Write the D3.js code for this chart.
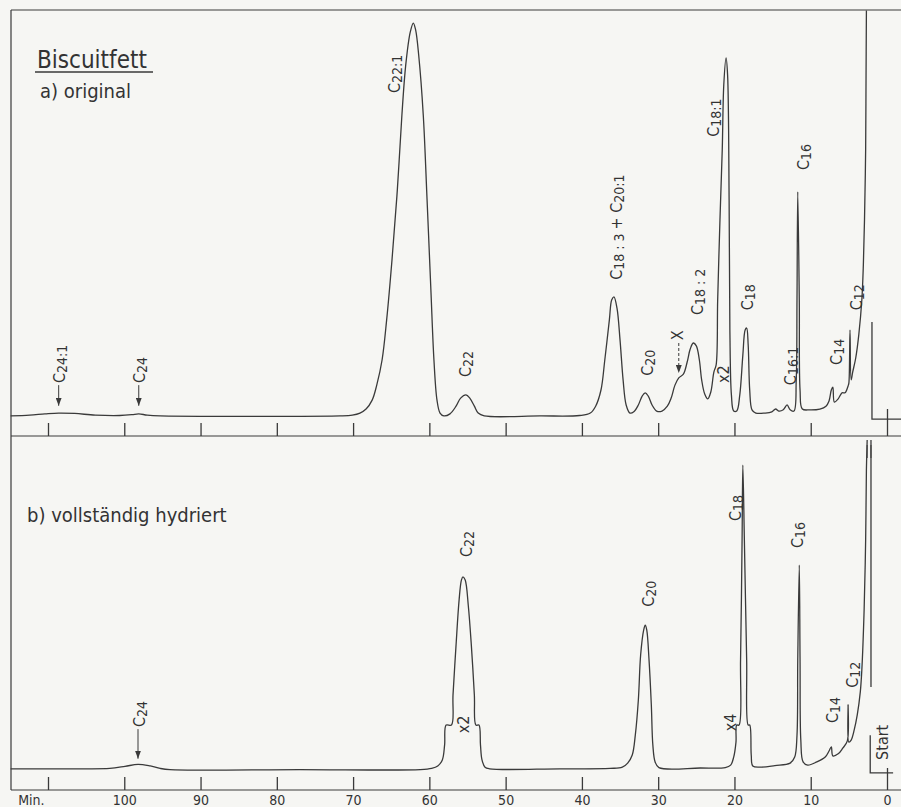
<!DOCTYPE html>
<html>
<head>
<meta charset="utf-8">
<script src="https://cdn.jsdelivr.net/npm/d3@7"></script>
<style>
body { margin: 0; background: #f6f6f3; }
text { font-family: "Liberation Sans Narrow", "DejaVu Sans Condensed", "DejaVu Sans", sans-serif; fill: #333; }
</style>
</head>
<body>
<svg id="chart" width="901" height="807"></svg>
<script>
// recorder traces, [retention time in min, signal]
var traceA = [[114.9,-0.1],[112.4,0.1],[110.4,0.4],[108.6,0.6],[106.5,0.5],[103.8,0.1],[100.6,0],[99.0,0.2],[98.1,0.4],[97.0,0.1],[95.3,-0.1],
  [83.5,-0.2],[71.7,-0.1],[70.1,0.1],[69.1,0.6],[68.3,1.6],[67.5,3.8],[66.9,7.5],[66.2,13.7],[65.6,23.6],[64.9,38.4],[64.2,55.7],[63.6,74.2],
  [63.1,86.5],[62.5,94.7],[62.1,96.9],[61.8,95.2],[61.4,89.0],[60.8,74.2],[60.3,53.2],[59.8,31.0],[59.4,13.7],[59.0,3.8],[58.6,0.6],[58.1,-0.1],
  [57.3,0.4],[56.5,2.3],[55.9,4.3],[55.2,5.1],[54.7,4.3],[54.1,2.3],[53.6,0.6],[52.8,-0.1],[45.5,-0.1],[40.3,0],[38.9,0.6],[38.2,2.3],
  [37.5,6.3],[37.0,13.7],[36.4,23.6],[36.1,28.5],[35.8,29.3],[35.4,26.5],[35.0,18.6],[34.6,8.8],[34.2,2.6],[33.7,0.6],[33.2,0.9],[32.6,2.6],
  [32.1,4.8],[31.7,5.6],[31.3,4.8],[30.8,2.6],[30.2,1.1],[29.5,1.1],[28.8,2.3],[28.3,4.3],[27.8,7.5],[27.3,9.3],[26.7,10.2],[26.2,13.2],
  [25.8,16.4],[25.4,17.9],[25.0,17.2],[24.6,13.7],[24.3,8.8],[23.9,5.3],[23.5,4.1],[23.1,5.8],[22.7,10.7],[22.4,12.5],[22.2,28.5],[21.9,48.3],
  [21.6,65.6],[21.4,81.6],[21.1,88.3],[20.9,84.1],[20.7,53.2],[20.6,21.1],[20.4,5.1],[20.1,1.1],[19.7,1.1],[19.3,5.1],[18.9,14.9],[18.6,21.1],
  [18.4,21.6],[18.2,17.4],[18.0,6.3],[17.7,1.4],[17.2,0.6],[16.0,0.6],[15.1,0.9],[14.6,1.6],[14.2,1.1],[13.6,1.4],[13.1,2.6],[12.7,1.4],
  [12.2,1.1],[11.9,8.8],[11.8,28.5],[11.7,55.2],[11.5,28.5],[11.4,6.3],[11.1,1.6],[10.1,1.4],[8.8,1.6],[8.0,2.3],[7.6,3.6],[7.3,6.3],
  [7.1,7.0],[6.9,3.3],[6.4,4.1],[5.9,5.6],[5.5,5.6],[5.1,7.3],[5.0,8.0],[4.85,21.1],[4.7,8.8],[4.5,10.7],[4.1,14.2],[3.7,19.9],[3.3,28.5],
  [3.1,37.2],[2.95,48.3],[2.8,65.6],[2.75,82.8],[2.7,100]];

var traceB = [[114.9,-0.2],[105.8,-0.2],[101.9,-0.1],[99.9,0.4],[98.2,0.9],[96.6,0.5],[95.3,-0.1],[94.0,-0.4],[77.0,-0.4],[61.2,-0.4],
  [59.7,-0.1],[58.9,0.5],[58.3,2.0],[58.0,5.7],[57.8,10.6],[57.1,10.6],[56.9,18.0],[56.5,30.4],[56.1,41.5],[55.8,46.4],[55.6,47.2],
  [55.3,46.4],[54.9,40.2],[54.5,30.4],[54.1,18.0],[53.9,10.6],[53.5,10.6],[53.3,5.7],[53.1,2.0],[52.7,0.2],[52.1,-0.2],[42.9,-0.2],
  [36.3,-0.1],[34.7,0.2],[34.0,1.2],[33.4,3.2],[33.0,8.1],[32.6,16.8],[32.3,27.9],[31.9,34.1],[31.7,35.3],[31.5,34.1],[31.2,26.7],
  [30.9,15.6],[30.7,5.7],[30.4,1.5],[29.9,0.1],[24.5,0],[21.2,0.1],[20.5,0.7],[20.1,2.7],[19.8,6.4],[19.7,10.6],[19.4,10.6],[19.2,26.7],
  [19.0,56.3],[18.9,74.8],[18.7,56.3],[18.4,26.7],[18.2,10.6],[18.0,10.6],[17.8,3.2],[17.6,0.5],[16.7,0.2],[14.7,0.6],[12.7,1.2],
  [12.1,2.7],[11.8,8.1],[11.7,26.7],[11.5,50.1],[11.4,26.7],[11.3,6.9],[11.0,1.5],[10.4,0.7],[9.2,1.5],[8.1,2.7],[7.6,4.2],[7.3,5.2],
  [7.1,3.0],[6.4,3.5],[5.8,4.9],[5.2,6.7],[5.1,15.6],[5.0,6.4],[4.7,6.9],[4.3,9.4],[3.9,13.1],[3.5,18.8],[3.3,24.2],[3.0,39.0],
  [2.8,56.3],[2.7,73.6],[2.6,81.0]];

// start marks and the off-scale solvent flank
var startA = [[1.97,23.1],[1.97,-0.9],[-1.84,-0.9]];
var startB = [[2.2,8.1],[2.2,-1.2],[-0.8,-1.2]];
var solventB = [[2.1,81],[2.1,20]];

var tickMinutes = [0,10,20,30,40,50,60,70,80,90,100,110];
var tickLabels = ["0","10","20","30","40","50","60","70","80","90","100","Min."];

// peak labels: text, time, signal at the lower end of the text
var peaksA = [["C24:1",108.6,8.0],["C24",98.1,8.0],["C22:1",64.7,79.6],["C22",55.3,9.5],["C18 : 3 + C20:1",35.5,33.5],
  ["C20",31.5,9.8],["X",27.5,18.6],["C18 : 2",24.9,24.8],["x2",21.5,8.0],["C18:1",22.8,68.8],["C18",18.4,26.0],
  ["C16:1",12.7,7.5],["C16",11.0,60.6],["C14",6.7,12.5],["C12",4.1,26.0]];
var peaksB = [["C24",98.1,10.1],["C22",55.2,52.1],["x2",55.6,8.6],["C20",31.3,39.8],["x4",20.6,9.1],["C18",19.9,61.0],
  ["C16",11.8,54.3],["C14",7.2,11.1],["C12",4.6,19.8],["Start",0.7,2.0]];

// arrows: time, from signal, to signal
var arrowsA = [[108.6,7.5,2.4],[98.1,7.5,2.4]];
var dashedA = [[27.3,17.9,10.5]];
var arrowsB = [[98.2,9.6,2.3]];

var ink = "#3a3a3a";
var svg = d3.select("#chart");
svg.append("rect").attr("width",901).attr("height",807).attr("fill","#f6f6f3");

var x = d3.scaleLinear().domain([0,110]).range([887,48]);
var yA = d3.scaleLinear().domain([0,100]).range([415.5,10.5]);
var yB = d3.scaleLinear().domain([0,100]).range([768,363]);

svg.append("defs").append("marker").attr("id","head")
  .attr("viewBox","0 0 8 6").attr("refX",8).attr("refY",3)
  .attr("markerWidth",8).attr("markerHeight",6).attr("markerUnits","userSpaceOnUse").attr("orient","auto")
  .append("path").attr("d","M0,0L8,3L0,6Z").attr("fill",ink);

// frame
svg.append("line").attr("x1",11).attr("x2",901).attr("y1",10).attr("y2",10).attr("stroke",ink).attr("stroke-width",1.2);
svg.append("line").attr("x1",11).attr("x2",11).attr("y1",10).attr("y2",790).attr("stroke",ink).attr("stroke-width",1.2);

function axis(yPos, long, labels) {
  var ax = d3.axisBottom(x).tickValues(tickMinutes).tickSize(-13).tickPadding(5)
    .tickFormat(function(d,i){ return labels ? tickLabels[i] : ""; });
  var g = svg.append("g").attr("transform","translate(0,"+yPos+")").call(ax);
  g.select(".domain").remove();
  g.append("line").attr("x1",11).attr("x2",901).attr("stroke",ink).attr("stroke-width",1.2);
  g.selectAll(".tick line").attr("stroke",ink).attr("stroke-width",1.3);
  g.selectAll(".tick").filter(function(d){ return d===0; }).select("line").attr("y2",-long);
  g.selectAll(".tick text").attr("font-size",14).attr("fill","#333");
  g.selectAll(".tick").filter(function(d){ return d===110; }).select("text")
    .attr("text-anchor","end").attr("x",-4);
}
axis(436, 27, false);
axis(790, 22, true);

// break mark below the upper time axis
[2.6,2.1].forEach(function(t){
  svg.append("line").attr("x1",x(t)).attr("x2",x(t)).attr("y1",445).attr("y2",458).attr("stroke",ink).attr("stroke-width",1);
});

function trace(data, y) {
  var line = d3.line().x(function(d){ return x(d[0]); }).y(function(d){ return y(d[1]); })
    .curve(d3.curveCatmullRom.alpha(0.5));
  svg.append("path").datum(data).attr("d",line).attr("fill","none").attr("stroke",ink).attr("stroke-width",1.3);
}
function poly(data, y) {
  var line = d3.line().x(function(d){ return x(d[0]); }).y(function(d){ return y(d[1]); });
  svg.append("path").datum(data).attr("d",line).attr("fill","none").attr("stroke",ink).attr("stroke-width",1.3);
}
trace(traceA, yA);
trace(traceB, yB);
poly(startA, yA);
poly(startB, yB);
poly(solventB, yB);

function arrows(list, y, dashed) {
  list.forEach(function(a){
    svg.append("line").attr("x1",x(a[0])).attr("x2",x(a[0])).attr("y1",y(a[1])).attr("y2",y(a[2]))
      .attr("stroke",ink).attr("stroke-width",1).attr("stroke-dasharray",dashed ? "3,2" : null)
      .attr("marker-end","url(#head)");
  });
}
arrows(arrowsA, yA, false);
arrows(dashedA, yA, true);
arrows(arrowsB, yB, false);

// rotated peak labels, carbon numbers set smaller
function labels(list, y) {
  list.forEach(function(p){
    var t = svg.append("text").attr("transform","translate("+(x(p[1])+6)+","+y(p[2])+") rotate(-90)");
    var parts = p[0].match(/C|[\d :]+|[^C\d :]+/g), prev = "";
    parts.forEach(function(s){
      var sub = prev === "C" && /\d/.test(s);
      t.append("tspan").text(s).attr("font-size", sub ? 14 : 16).attr("dy", sub ? 2 : (prev && /\d/.test(prev) ? -2 : 0));
      prev = s;
    });
  });
}
labels(peaksA, yA);
labels(peaksB, yB);

svg.append("text").attr("x",37).attr("y",68).attr("font-size",24).text("Biscuitfett");
svg.append("line").attr("x1",35).attr("x2",153).attr("y1",72).attr("y2",72).attr("stroke",ink).attr("stroke-width",1.3);
svg.append("text").attr("x",40).attr("y",98).attr("font-size",20).text("a) original");
svg.append("text").attr("x",27).attr("y",522).attr("font-size",20).text("b) vollständig hydriert");
</script>
</body>
</html>
